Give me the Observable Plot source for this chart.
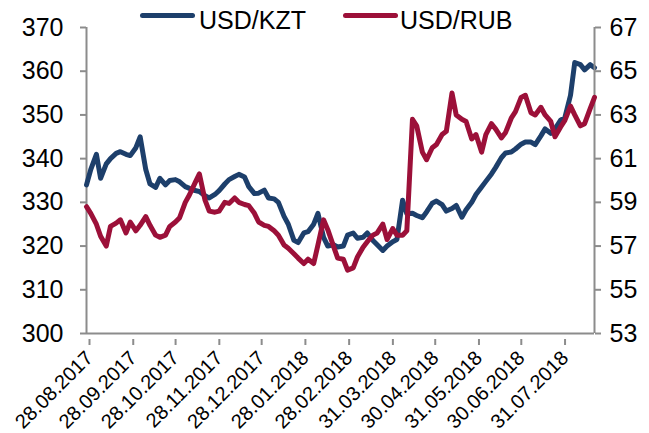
<!DOCTYPE html>
<html><head><meta charset="utf-8">
<script src="https://cdn.jsdelivr.net/npm/d3@7"></script>
<script src="https://cdn.jsdelivr.net/npm/@observablehq/plot@0.6"></script>
<style>
body{margin:0;background:#fff;font-family:"Liberation Sans",Arial,sans-serif;}
#wrap{position:relative;width:649px;height:433px;overflow:hidden;}
#wrap svg{position:absolute;left:0;top:0;}
.leg{position:absolute;top:8px;height:25px;line-height:25px;font-size:25px;color:#000;white-space:nowrap;}
.sw{position:absolute;top:13px;height:5px;border-radius:3px;width:55px;}
</style></head>
<body><div id="wrap">
</div>
<script>
const dates = [
"2017-08-28","2017-08-31",
"2017-09-04","2017-09-07","2017-09-11","2017-09-14","2017-09-18","2017-09-21","2017-09-25","2017-09-28",
"2017-10-02","2017-10-05","2017-10-09","2017-10-12","2017-10-16","2017-10-19","2017-10-23","2017-10-26","2017-10-30",
"2017-11-02","2017-11-06","2017-11-09","2017-11-13","2017-11-16","2017-11-20","2017-11-23","2017-11-27","2017-11-30",
"2017-12-04","2017-12-07","2017-12-11","2017-12-14","2017-12-18","2017-12-21","2017-12-25","2017-12-28",
"2018-01-01","2018-01-04","2018-01-08","2018-01-11","2018-01-15","2018-01-18","2018-01-22","2018-01-25","2018-01-29",
"2018-02-01","2018-02-05","2018-02-08","2018-02-12","2018-02-15","2018-02-19","2018-02-22","2018-02-26",
"2018-03-01","2018-03-05","2018-03-08","2018-03-12","2018-03-15","2018-03-19","2018-03-22","2018-03-26","2018-03-29",
"2018-04-02","2018-04-05","2018-04-09","2018-04-12","2018-04-16","2018-04-19","2018-04-23","2018-04-26","2018-04-30",
"2018-05-03","2018-05-07","2018-05-10","2018-05-14","2018-05-17","2018-05-21","2018-05-24","2018-05-28","2018-05-31",
"2018-06-04","2018-06-07","2018-06-11","2018-06-14","2018-06-18","2018-06-21","2018-06-25","2018-06-28",
"2018-07-02","2018-07-05","2018-07-09","2018-07-12","2018-07-16","2018-07-19","2018-07-23","2018-07-26","2018-07-30",
"2018-08-02","2018-08-06","2018-08-09","2018-08-13","2018-08-16","2018-08-20","2018-08-23"];

const usdKzt = [
334,337.5,341,335.5,338.8,340,341.2,341.6,341,340.7,
342.5,345,337.5,334.2,333.4,335.5,334,335,335.2,334.7,
333.6,333.2,332.7,332.5,331.5,331,331.8,332.7,334.2,335.2,
335.9,336.4,335.8,333.6,332,332.1,332.8,331,330.8,330,
326.8,325,321.3,320.8,323,323.3,325,327.5,322,320,
320.3,319.8,320,322.5,323,321.8,322,323,321.3,320.3,
319,320,321,321.5,330.5,327.4,327.5,327,326.5,327.8,
329.8,330.3,329.5,328,328.6,329.3,326.6,328.3,330,331.8,
333.5,334.8,336.5,338,340.2,341.3,341.5,342.2,343.3,343.8,
343.8,343.2,345.2,346.8,345.8,346.8,348.8,349.4,354.5,362,
361.5,360.3,361.5,360.8];

const usdRub = [
58.8,58.5,58.0,57.45,57.0,57.9,58.05,58.2,57.6,58.1,
57.7,57.95,58.35,57.95,57.5,57.4,57.5,57.9,58.1,58.3,
59.0,59.35,59.9,60.3,59.1,58.6,58.55,58.6,59.0,58.95,
59.2,59.0,58.9,58.85,58.5,58.1,57.95,57.9,57.7,57.5,
57.05,56.9,56.65,56.45,56.2,56.4,56.2,57.05,58.2,57.75,
57.0,56.45,56.4,55.9,56.0,56.5,56.95,57.2,57.5,57.6,
58.0,57.3,57.8,57.5,57.5,57.7,62.8,62.5,61.3,60.95,
61.5,61.65,62.1,62.25,64.0,63.0,62.8,62.7,61.9,62.1,
61.3,62.1,62.6,62.35,61.95,62.2,62.85,63.15,63.8,63.9,
63.1,63.0,63.35,63.0,62.7,62.0,62.45,62.75,63.4,63.0,
62.5,62.6,63.3,63.8];

const xTicks = ["2017-08-28","2017-09-28","2017-10-28","2017-11-28","2017-12-28","2018-01-28",
"2018-02-28","2018-03-31","2018-04-30","2018-05-31","2018-06-30","2018-07-31"];
const kztTicks = [300,310,320,330,340,350,360,370];
const rubTicks = [53,55,57,59,61,63,65,67];
const seriesNames = ["USD/KZT","USD/RUB"];
const colors = ["#1d3f6b","#9c1039"];

const rows = dates.map((d,i)=>({date:new Date(d), kzt:usdKzt[i], rub:usdRub[i]}));
const xDomain = [new Date(dates[0]), new Date(dates[dates.length-1])];
const axisGray = "#8c8c8c";
const font = "Liberation Sans, Arial, sans-serif";
const common = {width:649,height:433,marginLeft:86,marginRight:55,marginTop:27,marginBottom:100};

const p1 = Plot.plot({...common,
  x:{type:"utc",domain:xDomain},
  y:{domain:[300,370]},
  style:{fontFamily:font,color:"#000",background:"transparent",overflow:"visible"},
  marks:[
    Plot.axisY({ticks:kztTicks,tickSize:6,tickPadding:17,fontSize:25,stroke:axisGray,strokeWidth:2,fill:"#000",label:null,tickFormat:d=>String(d)}),
    Plot.axisX({ticks:xTicks.map(d=>new Date(d)),tickFormat:d3.utcFormat("%d.%m.%Y"),tickRotate:-45,tickSize:6,tickPadding:9,dx:3,dy:6,fontSize:20,stroke:axisGray,strokeWidth:2,fill:"#000",label:null}),
    Plot.ruleX([xDomain[0]],{stroke:axisGray,strokeWidth:2}),
    Plot.ruleY([300],{stroke:axisGray,strokeWidth:2}),
    Plot.line(rows,{x:"date",y:"kzt",stroke:colors[0],strokeWidth:5,strokeLinejoin:"round",strokeLinecap:"round"})
  ]
});

const p2 = Plot.plot({...common,
  x:{type:"utc",domain:xDomain,axis:null},
  y:{domain:[53,67]},
  style:{fontFamily:font,color:"#000",background:"transparent",overflow:"visible"},
  marks:[
    Plot.axisY({anchor:"right",ticks:rubTicks,tickSize:6,tickPadding:9,fontSize:25,stroke:axisGray,strokeWidth:2,fill:"#000",label:null,tickFormat:d=>String(d)}),
    Plot.ruleX([xDomain[1]],{stroke:axisGray,strokeWidth:2}),
    Plot.line(rows,{x:"date",y:"rub",stroke:colors[1],strokeWidth:5,strokeLinejoin:"round",strokeLinecap:"round"})
  ]
});

const wrap = document.getElementById("wrap");
wrap.appendChild(p1);
wrap.appendChild(p2);

// legend
const legPos = [{sw:140,tx:199},{sw:343,tx:400}];
seriesNames.forEach((n,i)=>{
  const s = document.createElement("div");
  s.className="sw"; s.style.left=legPos[i].sw+"px"; s.style.background=colors[i];
  const t = document.createElement("div");
  t.className="leg"; t.style.left=legPos[i].tx+"px"; t.textContent=n;
  wrap.appendChild(s); wrap.appendChild(t);
});
</script>
</body></html>
